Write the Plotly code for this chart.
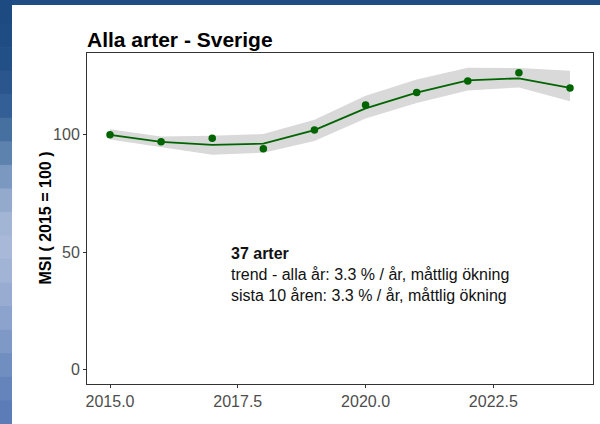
import plotly.graph_objects as go

# ---- data ----
years = [2015, 2016, 2017, 2018, 2019, 2020, 2021, 2022, 2023, 2024]
msi = [100.0, 97.0, 98.5, 94.1, 102.0, 112.7, 118.0, 123.0, 126.5, 120.0]
trend = [100.0, 97.0, 95.7, 96.2, 102.0, 111.3, 118.0, 123.2, 124.1, 120.0]
lower = [98.0, 94.9, 91.5, 92.4, 97.4, 107.0, 113.6, 118.9, 120.2, 114.3]
upper = [102.4, 99.3, 99.6, 100.3, 106.4, 116.7, 123.6, 128.6, 128.5, 127.3]

x_tickvals = [2015, 2017.5, 2020, 2022.5]
x_ticktext = ["2015.0", "2017.5", "2020.0", "2022.5"]
y_tickvals = [0, 50, 100]
y_ticktext = ["0", "50", "100"]

title_text = "Alla arter - Sverige"
y_title = "MSI ( 2015 = 100 )"
info_lines = ["<b>37 arter</b>",
              "trend - alla år: 3.3 % / år, måttlig ökning",
              "sista 10 åren: 3.3 % / år, måttlig ökning"]
info_x = 2017.33
info_y = [49.5, 40.4, 31.6]

# ---- layout geometry (pixels) ----
W, H = 600, 424
L, R, T, B = 87, 7, 53, 40
pw = W - L - R
ph = H - T - B


def px(xp):
    return (xp - L) / pw


def py(yp):
    return 1 - (yp - T) / ph


green = "#006400"
font = "Liberation Sans, Arial, sans-serif"
frame_bottom = "#5f80b8"

fig = go.Figure()
# confidence ribbon
fig.add_trace(go.Scatter(x=years, y=upper, mode="lines", line=dict(width=0),
                         hoverinfo="skip", showlegend=False))
fig.add_trace(go.Scatter(x=years, y=lower, mode="lines", line=dict(width=0),
                         fill="tonexty", fillcolor="#d9d9d9",
                         hoverinfo="skip", showlegend=False))
# trend line
fig.add_trace(go.Scatter(x=years, y=trend, mode="lines",
                         line=dict(color=green, width=1.8), showlegend=False))
# points
fig.add_trace(go.Scatter(x=years, y=msi, mode="markers",
                         marker=dict(color=green, size=7.5), showlegend=False))

shapes = []
# white slide area
shapes.append(dict(type="rect", xref="paper", yref="paper",
                   x0=px(12), x1=px(W + 5), y0=py(5), y1=py(H + 5),
                   fillcolor="white", line=dict(width=0), layer="below"))
# blue frame: top band and left gradient band
shapes.append(dict(type="rect", xref="paper", yref="paper",
                   x0=px(-5), x1=px(W + 5), y0=py(-5), y1=py(5),
                   fillcolor="#214d85", line=dict(width=0), layer="below"))
band_cols = ["#1d4a80", "#1f4c83", "#234f87", "#2a568d", "#345f96", "#46709f",
             "#5d82ae", "#7b98c0", "#94aacd", "#a3b5d5", "#a8b8d8", "#a2b4d6",
             "#98acd2", "#8ca3cd", "#7f99c7", "#718ec1", "#6584bb", "#5b7cb6"]
n = len(band_cols)
for i, c in enumerate(band_cols):
    y0p = H * i / n
    y1p = H * (i + 1) / n + 0.5
    if i == n - 1:
        y1p = H + 10
    shapes.append(dict(type="rect", xref="paper", yref="paper",
                       x0=px(-5), x1=px(12), y0=py(y0p), y1=py(y1p),
                       fillcolor=c, line=dict(width=0), layer="below"))

annotations = []
for txt, yv in zip(info_lines, info_y):
    annotations.append(dict(x=info_x, y=yv, xref="x", yref="y", text=txt,
                            showarrow=False, xanchor="left", yanchor="middle",
                            font=dict(family=font, size=16, color="#111111")))
annotations.append(dict(x=px(45), y=0.5, xref="paper", yref="paper",
                        text="<b>" + y_title + "</b>", textangle=-90,
                        showarrow=False, xanchor="center", yanchor="middle",
                        font=dict(family=font, size=16, color="#000000")))

fig.update_layout(
    width=W, height=H,
    margin=dict(l=L, r=R, t=T, b=B, autoexpand=False),
    paper_bgcolor=frame_bottom, plot_bgcolor="white",
    title=dict(text="<b>" + title_text + "</b>", x=px(L), xref="paper",
               xanchor="left", y=1 - 40 / H, yref="container", yanchor="middle",
               font=dict(family=font, size=21, color="#000000")),
    xaxis=dict(range=[2014.55, 2024.45], tickvals=x_tickvals, ticktext=x_ticktext,
               showgrid=False, zeroline=False, showline=True, mirror=True,
               linecolor="#333333", linewidth=1, ticks="outside", ticklen=3,
               tickcolor="#333333",
               tickfont=dict(family=font, size=16, color="#4d4d4d")),
    yaxis=dict(range=[-6.3, 134.9], tickvals=y_tickvals, ticktext=y_ticktext,
               showgrid=False, zeroline=False, showline=True, mirror=True,
               linecolor="#333333", linewidth=1, ticks="outside", ticklen=3,
               tickcolor="#333333",
               tickfont=dict(family=font, size=16, color="#4d4d4d")),
    shapes=shapes,
    annotations=annotations,
    showlegend=False,
)

fig.write_html("out.html",
               config={"displayModeBar": False},
               post_script="document.body.style.margin='0';"
                           "document.documentElement.style.overflow='hidden';")
